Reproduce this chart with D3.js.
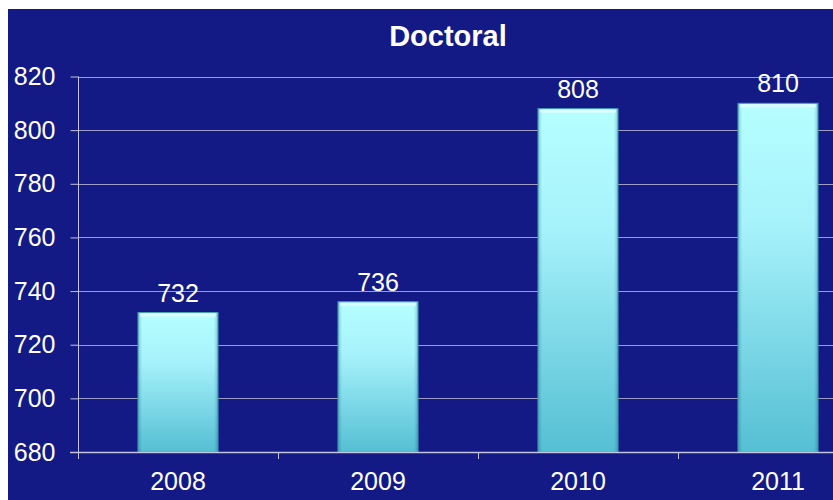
<!DOCTYPE html>
<html><head><meta charset="utf-8">
<script src="https://cdn.jsdelivr.net/npm/d3@7"></script>
<style>
html,body{margin:0;padding:0;background:#fff;}
svg{display:block;}
text{font-family:"Liberation Sans",Arial,sans-serif;fill:#fff;}
</style></head>
<body>
<svg id="chart" width="833" height="500"></svg>
<script>
const title = "Doctoral";
const years = ["2008", "2009", "2010", "2011"];
const values = [732, 736, 808, 810];
const yTicks = [680, 700, 720, 740, 760, 780, 800, 820];

(function () {
const W = 833, H = 500;
const FS = 25;
const svg = d3.select("#chart");
const defs = svg.append("defs");

const gv = defs.append("linearGradient").attr("id", "barV").attr("x1", 0).attr("y1", 0).attr("x2", 0).attr("y2", 1);
gv.append("stop").attr("offset", "0%").attr("stop-color", "#b6feff");
gv.append("stop").attr("offset", "35%").attr("stop-color", "#a6f2fb");
gv.append("stop").attr("offset", "100%").attr("stop-color", "#55bfd3");

const gh = defs.append("linearGradient").attr("id", "barH").attr("x1", 0).attr("y1", 0).attr("x2", 1).attr("y2", 0);
gh.append("stop").attr("offset", "0%").attr("stop-color", "#1a6a80").attr("stop-opacity", 0.35);
gh.append("stop").attr("offset", "5%").attr("stop-color", "#1a6a80").attr("stop-opacity", 0.0);
gh.append("stop").attr("offset", "95%").attr("stop-color", "#1a6a80").attr("stop-opacity", 0.0);
gh.append("stop").attr("offset", "100%").attr("stop-color", "#1a6a80").attr("stop-opacity", 0.35);

// background
svg.append("rect").attr("x", 8).attr("y", 9).attr("width", W - 8).attr("height", H - 9).attr("fill", "#131a86");

const plotLeft = 78, plotBottom = 452, plotTop = 76.5;
const x = d3.scaleBand().domain(years).range([plotLeft, plotLeft + 800]).paddingInner(0.6).paddingOuter(0.3);
const y = d3.scaleLinear().domain([680, 820]).range([plotBottom, plotTop]);

// gridlines
svg.append("g").selectAll("line").data(yTicks.slice(1)).join("line")
  .attr("x1", plotLeft).attr("x2", W)
  .attr("y1", d => Math.round(y(d)) + 0.5).attr("y2", d => Math.round(y(d)) + 0.5)
  .attr("stroke", "#9c9cc6").attr("stroke-width", 1);

// bars
const bars = svg.append("g").selectAll("g").data(values).join("g");
bars.append("rect")
  .attr("x", (d, i) => x(years[i])).attr("y", d => y(d))
  .attr("width", x.bandwidth()).attr("height", d => plotBottom - y(d))
  .attr("fill", "url(#barV)").attr("stroke", "#4b9fb4").attr("stroke-width", 1);
bars.append("rect")
  .attr("x", (d, i) => x(years[i])).attr("y", d => y(d))
  .attr("width", x.bandwidth()).attr("height", d => plotBottom - y(d))
  .attr("fill", "url(#barH)");
bars.append("rect")
  .attr("x", (d, i) => x(years[i]) + 2).attr("y", d => y(d) + 1)
  .attr("width", x.bandwidth() - 4).attr("height", 3)
  .attr("fill", "#e8ffff").attr("opacity", 0.7);

// value labels
svg.append("g").selectAll("text").data(values).join("text")
  .attr("x", (d, i) => x(years[i]) + x.bandwidth() / 2)
  .attr("y", d => y(d) - 11)
  .attr("text-anchor", "middle").attr("font-size", FS)
  .text(d => d);

// y axis
const yAxis = d3.axisLeft(y).tickValues(yTicks).tickSize(8).tickPadding(15).tickFormat(d3.format("d"));
const gy = svg.append("g").attr("transform", `translate(${plotLeft + 0.5},0)`).call(yAxis);
gy.select(".domain").remove();
gy.selectAll(".tick line").attr("stroke", "#c4c4dc");
gy.selectAll(".tick text").attr("font-size", FS).attr("fill", "#fff").attr("font-family", "'Liberation Sans',Arial,sans-serif");
svg.append("line").attr("x1", plotLeft + 0.5).attr("x2", plotLeft + 0.5).attr("y1", plotTop).attr("y2", plotBottom + 7)
  .attr("stroke", "#c4c4dc");

// x axis
const xAxis = d3.axisBottom(x).tickSize(0).tickPadding(20);
const gx = svg.append("g").attr("transform", `translate(0,${plotBottom})`).call(xAxis);
gx.select(".domain").remove();
gx.selectAll(".tick text").attr("font-size", FS).attr("fill", "#fff").attr("font-family", "'Liberation Sans',Arial,sans-serif");
svg.append("line").attr("x1", plotLeft - 8).attr("x2", W).attr("y1", plotBottom + 0.5).attr("y2", plotBottom + 0.5)
  .attr("stroke", "#c4c4dc").attr("stroke-width", 1.5);
const step = x.step();
svg.append("g").selectAll("line").data(years.slice(1)).join("line")
  .attr("x1", d => Math.round(x(d) - (step - x.bandwidth()) / 2) + 0.5)
  .attr("x2", d => Math.round(x(d) - (step - x.bandwidth()) / 2) + 0.5)
  .attr("y1", plotBottom).attr("y2", plotBottom + 7)
  .attr("stroke", "#c4c4dc");

// title
svg.append("text").attr("x", 448).attr("y", 45.5).attr("text-anchor", "middle")
  .attr("font-size", 29).attr("font-weight", "bold").text(title);
})();
</script>
</body></html>
